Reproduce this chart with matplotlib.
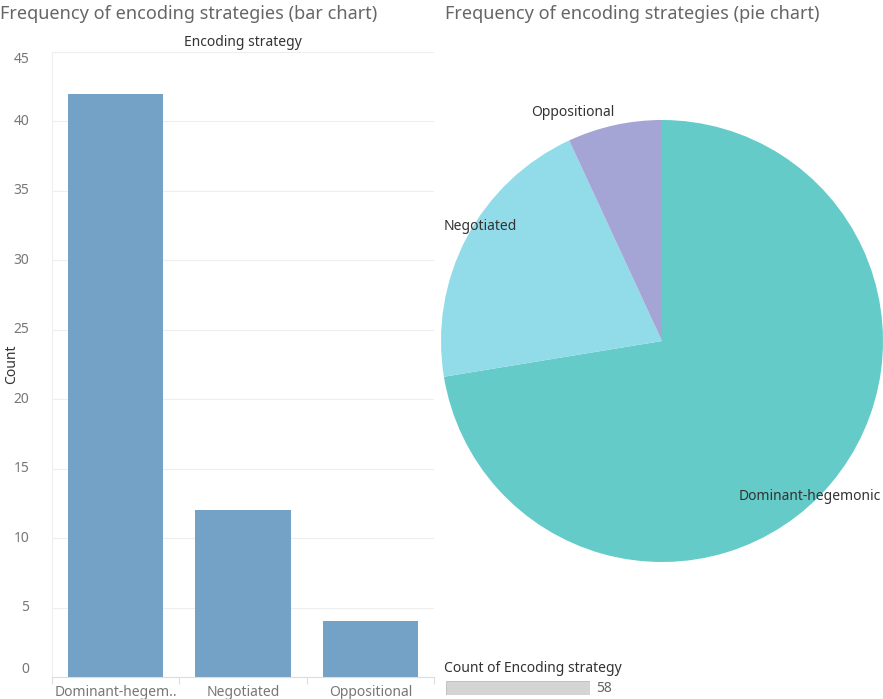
import numpy as np
import matplotlib.pyplot as plt

plt.rcParams['font.family'] = ['Noto Sans', 'DejaVu Sans']

# data
strategies = ["Dominant-hegemonic", "Negotiated", "Oppositional"]
bar_labels = ["Dominant-hegem..", "Negotiated", "Oppositional"]
counts = [42, 12, 4]
pie_colors = ["#64cbc9", "#92dbe8", "#a5a5d5"]
y_ticks = [0, 5, 10, 15, 20, 25, 30, 35, 40, 45]

W, H = 883, 699
fig = plt.figure(figsize=(W / 100, H / 100), dpi=100)


def px_axes(left, top, width, height):
    # axes placed in pixel coordinates (top-left origin)
    return fig.add_axes([left / W, (H - top - height) / H, width / W, height / H])


text_gray = "#666666"
tick_gray = "#777777"
fs = 10

# ---- bar chart ----
ax = px_axes(52, 52, 382, 625)
x = np.arange(len(counts))
ax.bar(x, counts, width=0.75, color="#74a1c6", zorder=2)
ax.set_xlim(-0.5, len(counts) - 0.5)
ax.set_ylim(0, 45)
ax.set_yticks(y_ticks)
ax.set_yticklabels([])
for v in y_ticks:
    va = "center"
    if v == 45:
        va = "top"
    elif v == 0:
        va = "bottom"
    ax.text(-0.06, v, str(v), transform=ax.get_yaxis_transform(), ha="right",
            va=va, fontsize=fs, color=tick_gray)
ax.yaxis.grid(True, color="#eeeeee", linewidth=0.8, zorder=0)
ax.tick_params(axis="y", length=0)
ax.set_xticks(x)
ax.set_xticklabels(bar_labels, fontsize=fs, color=tick_gray)
ax.tick_params(axis="x", length=0, pad=6)
ax.set_xticks(np.arange(-0.5, len(counts)), minor=True)
ax.tick_params(axis="x", which="minor", length=5, color="#dddddd", width=0.8)
for side in ["top", "right"]:
    ax.spines[side].set_visible(False)
ax.spines["left"].set_color("#eeeeee")
ax.spines["bottom"].set_color("#dddddd")
ax.set_ylabel("Count", fontsize=fs, color="#333333", labelpad=20)
ax.set_title("Encoding strategy", fontsize=fs, color="#333333", pad=4,
             fontweight="semibold")

fig.text(0 / W, 1 - 14 / H, "Frequency of encoding strategies (bar chart)",
         fontsize=13, color=text_gray, ha="left", va="center")
fig.text(445 / W, 1 - 14 / H, "Frequency of encoding strategies (pie chart)",
         fontsize=13, color=text_gray, ha="left", va="center")

# ---- pie chart ----
axp = px_axes(441, 120, 442, 442)
wedges, _ = axp.pie(counts, colors=pie_colors, startangle=90, counterclock=False,
                    radius=1, wedgeprops=dict(linewidth=0))
axp.set_xlim(-1, 1)
axp.set_ylim(-1, 1)
axp.set_aspect("equal")

# label placement: (distance from centre, angular shift from wedge middle)
label_pos = {0: (0.97, -6), 1: (0.97, -4.3), 2: (1.11, 9)}
for i, w in enumerate(wedges):
    dist, shift = label_pos[i]
    ang = np.deg2rad((w.theta1 + w.theta2) / 2 + shift)
    axp.text(dist * np.cos(ang), dist * np.sin(ang), strategies[i],
             ha="center", va="center", fontsize=fs, color="#333333")

# ---- legend ----
fig.text(444 / W, 1 - 668 / H, "Count of Encoding strategy", fontsize=fs,
         color="#333333", ha="left", va="center")
axl = px_axes(446, 681, 144, 14)
axl.barh([0], [sum(counts)], height=1, color="#d4d4d4", edgecolor="#bbbbbb",
         linewidth=0.6)
axl.set_xlim(0, sum(counts))
axl.set_ylim(-0.5, 0.5)
axl.axis("off")
fig.text(596 / W, 1 - 688 / H, str(sum(counts)), fontsize=fs, color=text_gray,
         ha="left", va="center")

fig.savefig("out.png", dpi=100)
